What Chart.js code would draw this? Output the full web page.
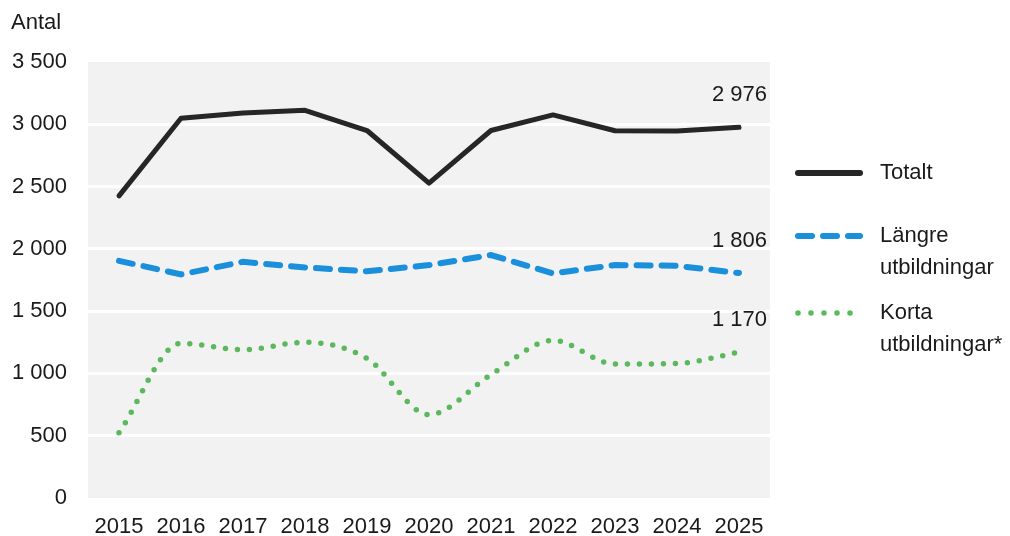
<!DOCTYPE html>
<html lang="sv">
<head>
<meta charset="utf-8">
<script src="https://cdn.jsdelivr.net/npm/chart.js@4/dist/chart.umd.min.js"></script>
<style>
    html, body { margin: 0; padding: 0; background: #fff; }
    #wrap { width: 1010px; height: 536px; position: relative; }
</style>
</head>
<body>
<div id="wrap"><canvas id="c"></canvas></div>
<script>
const FONT = "'Liberation Sans', Arial, Helvetica, sans-serif";
Chart.defaults.font.family = FONT;
Chart.defaults.font.size = 22;
Chart.defaults.color = "#1a1a1a";

const years = ["2015", "2016", "2017", "2018", "2019", "2020", "2021", "2022", "2023", "2024", "2025"];
const totalt = [2425, 3048, 3090, 3112, 2950, 2528, 2950, 3075, 2948, 2946, 2976];
const langre = [1904, 1795, 1896, 1851, 1820, 1870, 1950, 1803, 1870, 1864, 1806];
const korta  = [524, 1242, 1190, 1250, 1120, 670, 990, 1265, 1075, 1080, 1170];
const yTicks = [0, 500, 1000, 1500, 2000, 2500, 3000, 3500];

const C = {
    black: "#262626",
    blue:  "#1a8fdc",
    green: "#5cb85c",
    plot:  "#f2f2f2",
    text:  "#1a1a1a",
};

const LEGEND = [
    { lines: ["Totalt"],                 color: C.black, dash: [],       width: 6, y: 173 },
    { lines: ["Längre", "utbildningar"], color: C.blue,  dash: [14, 11], width: 6, y: 236 },
    { lines: ["Korta", "utbildningar*"], color: C.green, dash: [0, 13],  width: 5.5, y: 313 },
];

function fmt(v) {
    return String(v).replace(/\B(?=(\d{3})+(?!\d))/g, " ");
}

// grey plot background
const plotBg = {
    id: "plotBg",
    beforeDraw(chart) {
        const { ctx, chartArea: a } = chart;
        ctx.save();
        ctx.fillStyle = C.plot;
        ctx.fillRect(a.left, a.top, a.right - a.left, a.bottom - a.top);
        ctx.restore();
    },
};

// axis title, end labels and the legend on the right
const extras = {
    id: "extras",
    afterDraw(chart) {
        const { ctx } = chart;
        ctx.save();
        ctx.fillStyle = C.text;
        ctx.font = `22px ${FONT}`;
        ctx.textBaseline = "middle";

        ctx.textAlign = "left";
        ctx.fillText("Antal", 11, 23);

        ctx.textAlign = "right";
        chart.data.datasets.forEach(ds => {
            const last = ds.data.length - 1;
            const y = chart.scales.y.getPixelForValue(ds.data[last]);
            ctx.fillText(fmt(ds.data[last]), 767, y - 32);
        });

        LEGEND.forEach(item => {
            ctx.beginPath();
            ctx.strokeStyle = item.color;
            ctx.lineWidth = item.width;
            ctx.lineCap = "round";
            ctx.setLineDash(item.dash);
            ctx.moveTo(798, item.y);
            ctx.lineTo(860, item.y);
            ctx.stroke();
            ctx.setLineDash([]);
            ctx.textAlign = "left";
            item.lines.forEach((t, k) => ctx.fillText(t, 880, item.y + k * 32));
        });
        ctx.restore();
    },
};

new Chart(document.getElementById("c"), {
    type: "line",
    data: {
        labels: years,
        datasets: [
            {
                label: "Totalt",
                data: totalt,
                borderColor: C.black,
                borderWidth: 5,
                borderJoinStyle: "round",
                borderCapStyle: "round",
                pointRadius: 0,
                tension: 0,
            },
            {
                label: "Längre utbildningar",
                data: langre,
                borderColor: C.blue,
                borderWidth: 6,
                borderDash: [14, 11],
                borderCapStyle: "round",
                pointRadius: 0,
                tension: 0,
            },
            {
                label: "Korta utbildningar*",
                data: korta,
                borderColor: C.green,
                borderWidth: 5.5,
                borderDash: [0, 12],
                borderCapStyle: "round",
                pointRadius: 0,
                cubicInterpolationMode: "monotone",
            },
        ],
    },
    options: {
        responsive: true,
        maintainAspectRatio: false,
        animation: false,
        layout: { padding: { top: 62, right: 240, left: 0, bottom: 0 } },
        plugins: {
            legend: { display: false },
            tooltip: { enabled: false },
        },
        scales: {
            x: {
                offset: true,
                grid: { display: false, drawTicks: false },
                border: { display: false },
                ticks: { color: C.text, padding: 16, maxRotation: 0, autoSkip: false },
                afterFit(scale) { scale.height = 38; },
            },
            y: {
                min: 0,
                max: 3500,
                afterBuildTicks(scale) { scale.ticks = yTicks.map(v => ({ value: v })); },
                grid: {
                    color: ctx => (ctx.tick.value === 0 || ctx.tick.value === 3500) ? "rgba(0,0,0,0)" : "#ffffff",
                    lineWidth: 3,
                    drawTicks: false,
                },
                border: { display: false },
                ticks: { color: C.text, padding: 21, callback: v => fmt(v) },
                afterFit(scale) { scale.width = 88; },
            },
        },
    },
    plugins: [plotBg, extras],
});
</script>
</body>
</html>
